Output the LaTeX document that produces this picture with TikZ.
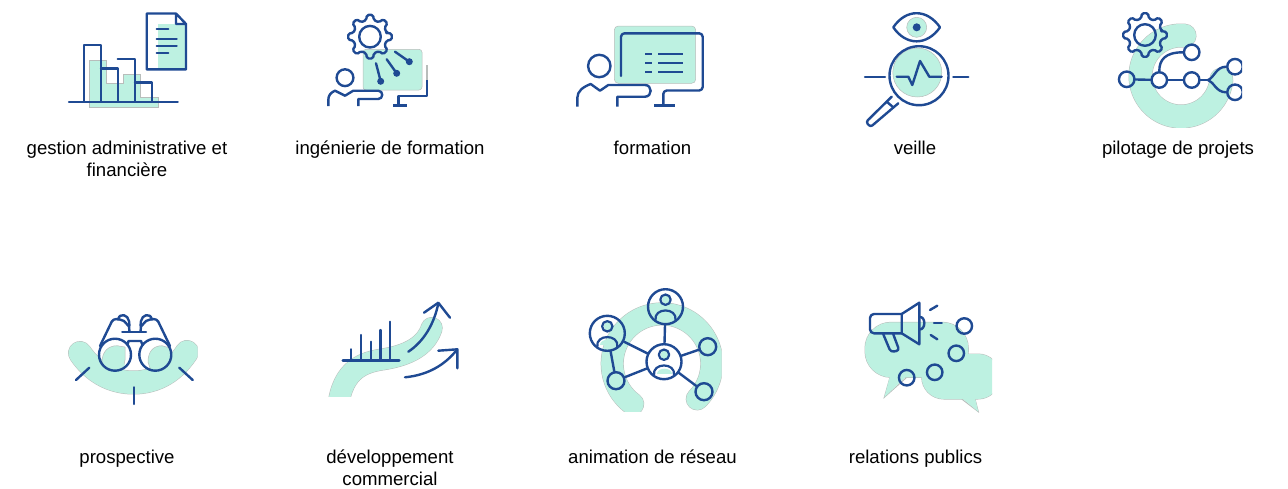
\documentclass[tikz,border=0pt]{standalone}
\usepackage{fontspec}
\setmainfont{Liberation Sans}
\definecolor{ink}{HTML}{1F4A93}
\definecolor{mint}{HTML}{BDF1E1}
\definecolor{edge}{HTML}{B8BDBB}
\tikzset{
  ln/.style={draw=ink,line width=2.4pt,line join=round,line cap=round},
  lnthin/.style={draw=ink,line width=2.2pt,line cap=round},
  mintshape/.style={fill=mint,draw=edge,line width=0.5pt},
  band/.style={draw=edge,line width=0.5pt,double=mint,double distance=#1,line cap=round,line join=round},
  lab/.style={font=\fontsize{18.6}{22}\selectfont,align=center,text=black,inner sep=0pt,anchor=north},
  dotn/.style={circle,draw=ink,line width=2.4pt,minimum size=15.5pt,inner sep=0pt},
  pers/.style={circle,draw=ink,line width=2.4pt,minimum size=35pt,inner sep=0pt},
  pt/.style={circle,fill=ink,inner sep=0pt,minimum size=7pt},
}
\newcommand{\cog}[2]{%
  \draw[ln,rounded corners=1.6pt] ({#1+17*cos(-17)},{#2+17*sin(-17)})
   \foreach \i in {0,45,...,315}{
     -- ({#1+17*cos(\i-13)},{#2+17*sin(\i-13)})
     -- ({#1+22*cos(\i-8)},{#2+22*sin(\i-8)})
     -- ({#1+22*cos(\i+8)},{#2+22*sin(\i+8)})
     -- ({#1+17*cos(\i+13)},{#2+17*sin(\i+13)})
   } -- cycle;
  \draw[ln] (#1,#2) circle[radius=10.8];
}
\newcommand{\person}[2]{%
  \fill[mint] (#1+1,#2-7) circle[radius=4.5];
  \draw[ln,line width=2.2pt] (#1,#2-7) circle[radius=5.2];
  \fill[mint] (#1-7.5,#2+12) .. controls (#1-7.5,#2+5) and (#1+8,#2+5) .. (#1+8,#2+12) -- cycle;
  \draw[ln,line width=2.2pt] (#1-10,#2+13.5) .. controls (#1-12,#2+0.5) and (#1+12,#2+0.5) .. (#1+10,#2+13.5);
}
\begin{document}
\begin{tikzpicture}[x=1pt,y=-1pt]
\useasboundingbox (0,0) rectangle (1288,488);
% ---------- icon 1
\path[mintshape] (89.3,60.7) -- (106,60.7) -- (106,83.3) -- (123.3,83.3) -- (123.3,74.7) -- (140.7,74.7) -- (140.7,97.3) -- (158.3,97.3) -- (158.3,107.3) -- (89.3,107.3) -- cycle;
\fill[mint] (157.7,24) rectangle (186,69.3);
\draw[ln] (69,101.7) -- (177.7,101.7);
\draw[ln] (83.7,101.7) -- (83.7,45) -- (101,45) -- (101,101.7);
\draw[ln] (101,68.3) -- (117.7,68.3) -- (117.7,101.7);
\draw[ln] (117.7,59) -- (135,59) -- (135,101.7);
\draw[ln] (135,82.3) -- (151.7,82.3) -- (151.7,101.7);
\draw[ln] (176,13.5) -- (146.7,13.5) -- (146.7,69.3) -- (186,69.3) -- (186,24) -- (176,13.5) -- (176,24) -- (186,24);
\draw[lnthin] (156.7,29.3) -- (168.3,29.3);
\draw[lnthin] (156.7,39.3) -- (176.7,39.3);
\draw[lnthin] (156.7,46.3) -- (176.7,46.3);
\draw[lnthin] (156.7,53.3) -- (168.3,53.3);
% ---------- icon 2
\path[mintshape,rounded corners=3pt] (363,49.3) rectangle (422,90);
\cog{370}{36.7}
\draw[ln] (395,51.7) -- (409.3,61.7);
\draw[ln] (386.7,59.3) -- (396.7,73.3);
\draw[ln] (376,63.3) -- (380.7,81.3);
\node[pt] (d1) at (409.3,61.7) {};
\node[pt] (d2) at (396.7,73.3) {};
\node[pt] (d3) at (380.7,81.3) {};
\draw[ln] (345,77.7) circle[radius=8.4];
\draw[ln,line cap=butt] (328.3,106) -- (328.3,100) .. controls (328.3,95) and (331,92.5) .. (335,90.7) -- (345,95.7) -- (353.3,90.7) -- (378.3,90.7) .. controls (383.5,90.7) and (383.5,99) .. (378.3,99) -- (358.3,99) -- (358.3,106);
\draw[draw=edge,line width=2.2pt] (426.7,65) -- (426.7,80);
\draw[ln,line cap=butt] (426.7,80) -- (426.7,95.7) -- (398.3,95.7) -- (398.3,105);
\draw[ln,line cap=butt] (393.3,105.3) -- (407.3,105.3);
% ---------- icon 3
\path[mintshape,rounded corners=4pt] (614.3,26) rectangle (695.7,83.3);
\draw[ln,rounded corners=3.5pt] (621,76) -- (621,33.3) -- (702.7,33.3) -- (702.7,90.5) -- (663.3,90.5) -- (663.3,105.3);
\draw[ln,line cap=butt] (654,105.3) -- (675,105.3);
\foreach \yy in {54,63.3,72}{
  \draw[lnthin,line cap=butt] (645,\yy) -- (651.7,\yy);
  \draw[lnthin,line cap=butt] (658.3,\yy) -- (683.3,\yy);
}
\draw[ln] (599.3,66) circle[radius=11.2];
\draw[ln,line cap=butt] (577.3,106.7) -- (577.3,98) .. controls (577.3,91) and (583,87) .. (590.7,84) -- (600,90.7) -- (608.3,85) -- (645,85) .. controls (652.5,85) and (652.5,96.7) .. (645,96.7) -- (617.3,96.7) -- (617.3,106.7);
% ---------- icon 4
\draw[mintshape] (916.7,27.3) circle[radius=10];
\fill[ink] (916.7,27.3) circle[radius=4];
\draw[ln] (893.3,27.3) .. controls (906,8.5) and (927,8.5) .. (940,27.3) .. controls (927,46) and (906,46) .. (893.3,27.3) -- cycle;
\draw[mintshape] (917.3,72.5) circle[radius=24.5];
\draw[ln] (919,75.7) circle[radius=29.5];
\draw[ln] (896.7,76.7) -- (908.3,76.7) -- (912.3,85) -- (920,61) -- (929.3,76.7) -- (941.7,76.7);
\draw[ln] (865,76.7) -- (885,76.7);
\draw[ln] (953.3,76.7) -- (968.3,76.7);
\draw[ln,rounded corners=2.5pt] (891.7,96.7) -- (866,122) -- (870.5,127) -- (898.3,103.3);
\draw[ln] (886.7,101.7) -- (893.3,107.3);
% ---------- icon 5
\begin{scope}
\clip (1100,0) rectangle (1242,127.7);
\draw[band=23pt] plot[domain=-85:-355,samples=90,variable=\t] ({1181+40.5*cos(\t)},{76+40.5*sin(\t)});
\cog{1145}{35}
\node[dotn] (p1) at (1126.7,79.3) {};
\node[dotn] (p2) at (1159.3,80) {};
\node[dotn] (p3) at (1191.7,80) {};
\node[dotn] (p4) at (1191.7,52.3) {};
\node[dotn] (p5) at (1235,66.7) {};
\node[dotn] (p6) at (1235,92.3) {};
\coordinate (fork) at (1208,80);
\draw[ln] (p1) -- (p2);
\draw[ln] (p2) -- (p3);
\draw[ln] (p3) -- (fork);
\draw[ln] (p2) .. controls (1159.3,60) and (1165,52.3) .. (p4);
\draw[ln] (fork) .. controls (1214,78) and (1216,66.7) .. (p5);
\draw[ln] (fork) .. controls (1214,82) and (1216,92.3) .. (p6);
\end{scope}
% ---------- icon 6
\begin{scope}
\clip (50,280) rectangle (197.7,420);
\draw[band=23pt] (80,353) .. controls (95,375) and (115,382.5) .. (133.5,382.5) .. controls (152,382.5) and (172,375) .. (187,352);
\end{scope}
\path[fill=mint,draw=edge,line width=0.5pt] (102,362) .. controls (102,352) and (108,345.7) .. (117,345.7) -- (125,347) -- (125,360) .. controls (125,366) and (120,370) .. (115,370) -- (105,368) -- cycle;
\path[fill=mint,draw=edge,line width=0.5pt] (148,362) .. controls (148,352) and (153,345.7) .. (162,345.7) -- (170,348) -- (171,360) .. controls (170,366) and (164,370) .. (156,370) -- (150,368) -- cycle;
\fill[mint] (104,364) -- (125,364) -- (122,372) -- (108,372) -- cycle;
\fill[mint] (150,364) -- (170,364) -- (166,372) -- (152,372) -- cycle;
\draw[ln] (115,354.7) circle[radius=16];
\draw[ln] (155.3,354.7) circle[radius=16];
\draw[ln] (127.5,345) -- (128.5,341) -- (141,341) -- (142.5,345);
\draw[ln] (122.3,331.7) -- (146,331.7);
\draw[ln] (100,346) -- (111.7,321.7) .. controls (114,318) and (118,318.5) .. (124,321) -- (129,326.5) -- (129.5,331.7);
\draw[ln] (170,346) -- (158.3,321.7) .. controls (156,318) and (152,318.5) .. (146,321) -- (141,326.5) -- (140.5,331.7);
\draw[ln] (118,319.5) .. controls (120,312) and (128,315) .. (129,321) -- (129.5,326);
\draw[ln] (152,319.5) .. controls (150,312) and (142,315) .. (141,321) -- (140.5,326);
\draw[ln] (89.3,367.7) -- (76,380);
\draw[ln] (179.3,367.7) -- (192.7,380);
\draw[ln] (134,387.3) -- (134,404);
% ---------- icon 7
\begin{scope}
\clip (300,290) rectangle (470,396.7);
\draw[band=21pt] (338,408) .. controls (342,368) and (365,362) .. (383.3,359.3) .. controls (410,355) and (426,345) .. (431.7,328);
\end{scope}
\draw[ln] (342.7,360.3) -- (399.3,360.3);
\draw[ln] (351,360.3) -- (351,349.3);
\draw[ln] (361,360.3) -- (361,335);
\draw[ln] (370.7,360.3) -- (370.7,341.7);
\draw[ln] (380.3,360.3) -- (380.3,330);
\draw[ln] (390,360.3) -- (390,321.7);
\draw[ln] (408.3,351.7) .. controls (423,342) and (434,325) .. (438.3,303.3);
\draw[ln] (424,312.7) -- (438.3,302.7) -- (450,317.7);
\draw[ln] (405,377.3) .. controls (428,375) and (445,365) .. (457.3,349.3);
\draw[ln] (438.3,350.7) -- (457.3,349.3) -- (457.3,368.3);
% ---------- icon 8
\begin{scope}
\clip (570,280) rectangle (721.7,411.7);
\draw[band=22pt] plot[domain=126:405,samples=100,variable=\t] ({662+49.8*cos(\t)},{363.7+49.8*sin(\t)});
\end{scope}
\node[pers] (top) at (665.5,306.7) {};
\node[pers] (left) at (607.3,333.3) {};
\node[pers] (mid) at (664,361.7) {};
\node[dotn,minimum size=17pt] (s1) at (707.7,346.7) {};
\node[dotn,minimum size=17pt] (s2) at (616,380.7) {};
\node[dotn,minimum size=17pt] (s3) at (704,391.7) {};
\draw[ln] (top) -- (mid);
\draw[ln] (left) -- (mid);
\draw[ln] (left) -- (s2);
\draw[ln] (s2) -- (mid);
\draw[ln] (mid) -- (s1);
\draw[ln] (mid) -- (s3);
\person{665.5}{306.7}
\person{607.3}{333.3}
\person{664}{361.7}
% ---------- icon 9
\begin{scope}
\clip (850,290) rectangle (992,420);
\path[draw=edge,line width=1pt,rounded corners=26pt] (865,322.3) rectangle (968.3,377.3);
\path[draw=edge,line width=1pt] (890,377.3) -- (884.3,397.3) -- (906.7,377.3);
\path[draw=edge,line width=1pt,rounded corners=22pt] (921.7,354) rectangle (1000,399);
\path[draw=edge,line width=1pt] (961.7,399) -- (978.3,411.7) -- (975,399);
\path[fill=mint,rounded corners=26pt] (865,322.3) rectangle (968.3,377.3);
\path[fill=mint] (890,376) -- (884.3,397.3) -- (906.7,376) -- cycle;
\path[fill=mint,rounded corners=22pt] (921.7,354) rectangle (1000,399);
\path[fill=mint] (961.7,398) -- (978.3,411.7) -- (975,398) -- cycle;
\end{scope}
\draw[ln] (919.3,317) .. controls (926,316) and (926,330) .. (919.3,329.5);
\draw[ln,rounded corners=4pt] (901.7,314) -- (870,314) -- (870,333.3) -- (901.7,333.3);
\draw[ln] (901.7,314) -- (919.3,302.7) -- (919.3,344.3) -- (901.7,333.3) -- cycle;
\draw[ln,rounded corners=3pt] (883.3,334.3) -- (890.7,352) -- (899.3,350.5) -- (893.3,334.3);
\draw[ln] (930,310) -- (937.3,305.7);
\draw[ln] (934,322.7) -- (941.7,322.7);
\draw[ln] (930.7,335) -- (937.3,339.3);
\node[dotn] (m1) at (964.3,326) {};
\node[dotn] (m2) at (956.3,353.3) {};
\node[dotn] (m3) at (934.7,372.3) {};
\node[dotn] (m4) at (906.7,377.7) {};
% ---------- labels
\node[lab] (l1) at (127,139.2) {\strut gestion administrative et\\\strut financière};
\node[lab] (l2) at (390,139.2) {\strut ingénierie de formation};
\node[lab] (l3) at (652.5,139.2) {\strut formation};
\node[lab] (l4) at (915,139.2) {\strut veille};
\node[lab] (l5) at (1178,139.2) {\strut pilotage de projets};
\node[lab] (l6) at (127,447.6) {\strut prospective};
\node[lab] (l7) at (390,447.6) {\strut développement\\\strut commercial};
\node[lab] (l8) at (652.5,447.6) {\strut animation de réseau};
\node[lab] (l9) at (915.5,447.6) {\strut relations publics};
\end{tikzpicture}
\end{document}
